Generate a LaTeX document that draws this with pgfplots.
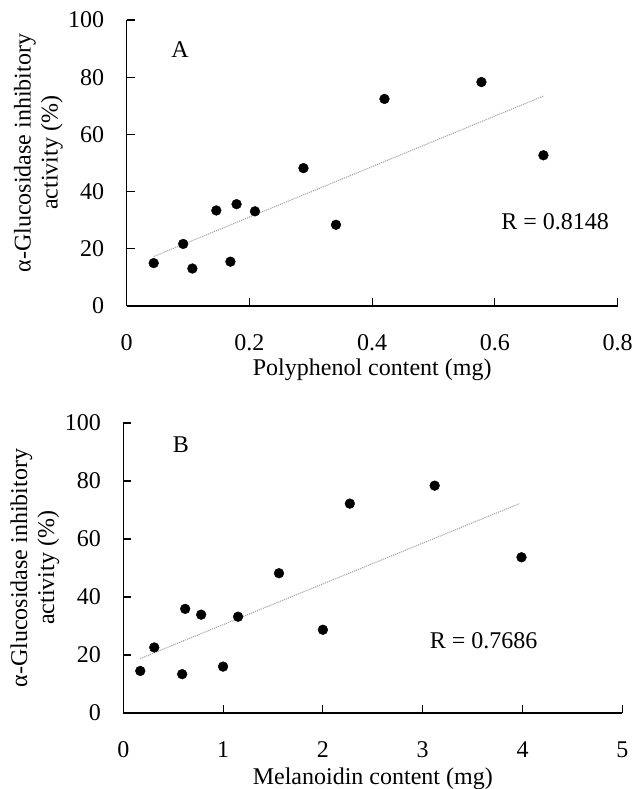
\documentclass[border=0pt]{standalone}
\usepackage{pgfplots}
\pgfplotsset{compat=1.18}
\usepackage{fontspec}
\setmainfont{Liberation Serif}

\pgfplotsset{
  panel/.style={
    scale only axis,
    axis x line*=bottom,
    axis y line*=left,
    axis line style={black, line width=1.1pt},
    tick align=inside,
    major tick length=8pt,
    tick style={black, line width=1.1pt},
    minor tick num=0,
    ymin=0, ymax=100,
    ytick={0,20,40,60,80,100},
    /pgf/number format/assume math mode=true,
    xticklabel shift=25pt,
    yticklabel shift=19pt,
    ylabel style={align=center, anchor=center},
    xlabel style={anchor=center},
    clip=false,
  },
  trend/.style={gray!70, densely dotted, line width=1.1pt},
  dots/.style={only marks, mark=*, mark size=4.9pt, black},
}

\begin{document}
\begin{tikzpicture}[font=\fontsize{24}{27}\selectfont]
\useasboundingbox (0,0) rectangle (636pt,789pt);

% panel A
\begin{axis}[panel,
  at={(126.7pt,483pt)}, anchor=south west,
  width=491pt, height=286pt,
  xmin=0, xmax=0.8,
  xtick={0,0.2,0.4,0.6,0.8},
  xticklabels={0,0.2,0.4,0.6,0.8},
  xlabel={Polyphenol content (mg)},
  xlabel style={at={(axis description cs:0.5,0)}, yshift=-64pt},
  ylabel={α-Glucosidase inhibitory\\activity (\%)},
  ylabel style={at={(axis description cs:-0.18,0.535)}},
]
\addplot[trend] coordinates {(0.044,17.3) (0.679,73.4)};
\addplot[dots] coordinates {
  (0.044,15.0) (0.092,21.7) (0.107,13.1) (0.146,33.4)
  (0.179,35.6) (0.209,33.1) (0.169,15.5) (0.288,48.2)
  (0.341,28.4) (0.420,72.4) (0.578,78.3) (0.679,52.7)
};
\node at (axis cs:0.087,89.5) {A};
\node at (axis cs:0.698,29.4) {R = 0.8148};
\end{axis}

% panel B
\begin{axis}[panel,
  at={(123.3pt,76pt)}, anchor=south west,
  width=499pt, height=290pt,
  xmin=0, xmax=5,
  xtick={0,1,2,3,4,5},
  xlabel={Melanoidin content (mg)},
  xlabel style={at={(axis description cs:0.5,0)}, yshift=-66pt},
  ylabel={α-Glucosidase inhibitory\\activity (\%)},
  ylabel style={at={(axis description cs:-0.177,0.5)}},
]
\addplot[trend] coordinates {(0.17,18.8) (3.97,72.2)};
\addplot[dots] coordinates {
  (0.17,14.5) (0.31,22.6) (0.59,13.4) (0.62,35.9)
  (0.78,33.9) (1.00,16.0) (1.15,33.2) (1.56,48.2)
  (2.00,28.7) (2.27,72.2) (3.12,78.4) (3.99,53.7)
};
\node at (axis cs:0.577,92.4) {B};
\node at (axis cs:3.61,25.1) {R = 0.7686};
\end{axis}
\end{tikzpicture}
\end{document}
